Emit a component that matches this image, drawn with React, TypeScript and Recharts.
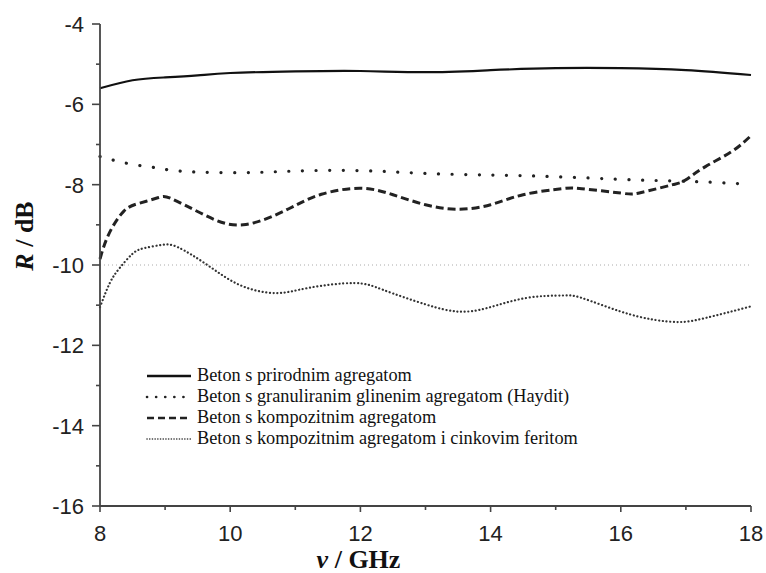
import React from "react";
import { LineChart, Line, XAxis, YAxis, ReferenceLine } from "recharts";

// frequency (GHz) / reflection (dB)
const prirodniF = [8, 8.5, 9, 9.5, 10, 11, 12, 13, 14, 15, 16, 17, 18];
const prirodniR = [-5.6, -5.4, -5.33, -5.28, -5.22, -5.18, -5.17, -5.2, -5.15, -5.1, -5.1, -5.15, -5.27];

const hayditF = [8, 8.45, 8.9, 9.3, 10.2, 11, 12, 13, 14, 15, 16.2, 17.1, 18];
const hayditR = [-7.3, -7.48, -7.59, -7.67, -7.7, -7.66, -7.65, -7.72, -7.76, -7.8, -7.88, -7.92, -7.99];

const kompozitF = [8, 8.13, 8.36, 8.61, 8.9, 9.1, 9.6, 10.2, 10.9, 11.4, 12, 12.5, 13, 13.5, 14, 14.5, 15.1, 15.4, 16, 16.3, 16.8, 17, 17.3, 17.7, 18];
const kompozitR = [-9.85, -9.25, -8.67, -8.46, -8.32, -8.35, -8.75, -9.0, -8.6, -8.24, -8.09, -8.25, -8.5, -8.61, -8.5, -8.25, -8.1, -8.1, -8.21, -8.2, -8.0, -7.88, -7.55, -7.18, -6.78];

const feritF = [8, 8.15, 8.3, 8.5, 8.68, 8.95, 9.2, 9.65, 10.15, 10.7, 11.2, 11.9, 12.35, 13, 13.5, 13.95, 14.55, 15.1, 15.4, 16, 16.5, 16.9, 17.3, 18];
const feritR = [-11.05, -10.45, -10.08, -9.72, -9.58, -9.5, -9.56, -10.0, -10.5, -10.7, -10.57, -10.45, -10.62, -10.98, -11.16, -11.07, -10.82, -10.76, -10.82, -11.16, -11.36, -11.42, -11.32, -11.03];

const xTicks = [8, 9, 10, 11, 12, 13, 14, 15, 16, 17, 18];
const yTicks = [-16, -15, -14, -13, -12, -11, -10, -9, -8, -7, -6, -5, -4];

const legendNames = [
  "Beton s prirodnim agregatom",
  "Beton s granuliranim glinenim agregatom (Haydit)",
  "Beton s kompozitnim agregatom",
  "Beton s kompozitnim agregatom i cinkovim feritom",
];

const toRows = (f: number[], r: number[]) => f.map((v, i) => ({ f: v, r: r[i] }));

const series = [
  { name: legendNames[0], data: toRows(prirodniF, prirodniR), width: 2.2, dash: undefined, cap: "butt", color: "#111", legendDash: undefined, legendWidth: 2.5 },
  { name: legendNames[1], data: toRows(hayditF, hayditR), width: 3.2, dash: "0.1 13.5", cap: "round", color: "#222", legendDash: "0.1 9", legendWidth: 2.6 },
  { name: legendNames[2], data: toRows(kompozitF, kompozitR), width: 3, dash: "8 4", cap: "butt", color: "#222", legendDash: "7 4", legendWidth: 2.6 },
  { name: legendNames[3], data: toRows(feritF, feritR), width: 2.2, dash: "0.1 3.6", cap: "round", color: "#333", legendDash: "0.1 2.6", legendWidth: 1.6 },
];

const tickFont = "'Liberation Sans', Arial, sans-serif";
const serif = "'Liberation Serif', 'Times New Roman', serif";

const YTick = (props: any) => {
  const { x, y, payload } = props;
  const major = payload.value % 2 === 0;
  return (
    <g>
      <line x1={x - (major ? 8 : 4)} x2={x} y1={y} y2={y} stroke="#444" strokeWidth={1.6} />
      {major && (
        <text x={x - 16} y={y} dy={8} textAnchor="end" fontSize={22} fontFamily={tickFont} fill="#222">
          {payload.value}
        </text>
      )}
    </g>
  );
};

const XTick = (props: any) => {
  const { x, y, payload } = props;
  const major = payload.value % 2 === 0;
  return (
    <g>
      <line x1={x} x2={x} y1={y} y2={y + (major ? 6 : 4)} stroke="#444" strokeWidth={1.6} />
      {major && (
        <text x={x} y={y + 35} textAnchor="middle" fontSize={22} fontFamily={tickFont} fill="#222">
          {payload.value}
        </text>
      )}
    </g>
  );
};

const YTitle = (props: any) => {
  const { viewBox } = props;
  const cx = 33;
  const cy = viewBox.y + viewBox.height / 2 - 29;
  return (
    <text x={cx} y={cy} transform={`rotate(-90 ${cx} ${cy})`} textAnchor="middle" fontSize={26} fontWeight="bold" fontFamily={serif} fill="#111">
      <tspan fontStyle="italic">R</tspan>
      <tspan> / dB</tspan>
    </text>
  );
};

const XTitle = (props: any) => {
  const { viewBox } = props;
  const cx = viewBox.x + viewBox.width / 2 - 67;
  return (
    <text x={cx} y={568} textAnchor="middle" fontSize={26} fontWeight="bold" fontFamily={serif} fill="#111">
      <tspan fontStyle="italic">ν</tspan>
      <tspan> / GHz</tspan>
    </text>
  );
};

const LegendBox = () => (
  <div style={{ position: "absolute", left: 145, top: 365, fontFamily: serif, fontSize: 18.3, color: "#111", lineHeight: "21px" }}>
    {series.map((s) => (
      <div key={s.name} style={{ display: "flex", alignItems: "center", whiteSpace: "nowrap" }}>
        <svg width={50} height={12} style={{ marginRight: 2 }}>
          <line x1={2} x2={46} y1={6} y2={6} stroke={s.color} strokeWidth={s.legendWidth}
            strokeDasharray={s.legendDash} strokeLinecap={s.cap as any} />
        </svg>
        <span>{s.name}</span>
      </div>
    ))}
  </div>
);

export default function App() {
  return (
    <div style={{ position: "absolute", left: 0, top: 0, width: 766, height: 573, background: "#fff" }}>
      <LineChart width={766} height={573} margin={{ top: 24, right: 15, bottom: 0, left: 0 }}>
        <XAxis
          dataKey="f"
          type="number"
          domain={[8, 18]}
          ticks={xTicks}
          interval={0}
          allowDuplicatedCategory={false}
          height={67}
          tickSize={0}
          tickMargin={0}
          tickLine={false}
          tick={<XTick />}
          axisLine={{ stroke: "#444", strokeWidth: 1.8 }}
          label={<XTitle />}
        />
        <YAxis
          type="number"
          domain={[-16, -4]}
          ticks={yTicks}
          interval={0}
          width={100}
          tickSize={0}
          tickMargin={0}
          tickLine={false}
          tick={<YTick />}
          axisLine={{ stroke: "#444", strokeWidth: 1.8 }}
          label={<YTitle />}
        />
        <ReferenceLine y={-10} stroke="#aaa" strokeWidth={1} strokeDasharray="1 3" />
        {series.map((s) => (
          <Line
            key={s.name}
            data={s.data}
            dataKey="r"
            name={s.name}
            type="natural"
            stroke={s.color}
            strokeWidth={s.width}
            strokeDasharray={s.dash}
            strokeLinecap={s.cap as any}
            dot={false}
            activeDot={false}
            isAnimationActive={false}
          />
        ))}
      </LineChart>
      <LegendBox />
    </div>
  );
}
